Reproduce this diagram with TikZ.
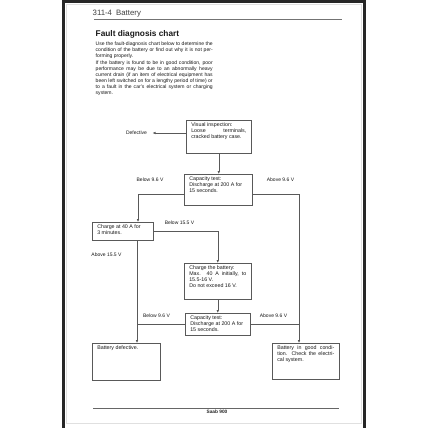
\documentclass[tikz,border=0pt]{standalone}
\usepackage{fontspec}
\setmainfont{Liberation Sans}
\usetikzlibrary{arrows.meta}
\newcommand{\bt}[3]{\parbox[c][#2][t]{#1}{\raggedright #3}}
\newcommand{\js}[1]{\makebox[\linewidth][s]{#1}}
\begin{document}
\begin{tikzpicture}[x=1pt,y=-1pt,
  box/.style={draw=black!65, line width=0.6pt, anchor=north west, inner xsep=5pt, inner ysep=2.3pt,
              font=\fontsize{5.3}{5.8}\selectfont, text=black!90},
  lbl/.style={font=\fontsize{5}{5.5}\selectfont, text=black!90, inner sep=0},
  arr/.style={draw=black!65, line width=0.6pt, -{Latex[length=3pt,width=2.6pt]}},
  ln/.style={draw=black!65, line width=0.6pt},
  hdr/.style={anchor=base west, font=\fontsize{7.8}{9}\selectfont, text=black!75, inner sep=0}]
\useasboundingbox (0,0) rectangle (428,428);
\fill[white] (0,0) rectangle (428,428);
% frame of the scanned page
\draw[black!12, line width=0.8pt] (66.5,4) rectangle (361,423);
\draw[black!85, line width=3pt] (63.5,430) -- (63.5,1.5) -- (364.5,1.5) -- (364.5,430);
% header
\node[hdr] (hn) at (92.5,16) {311-4};
\node[hdr] (ht) at (116,16) {Battery};
\draw[black!55, line width=0.9pt] (94,19.5) -- (342,19.5);
% title and text
\node[anchor=base west, font=\bfseries\fontsize{8.3}{10}\selectfont, text=black!90, inner sep=0] (title) at (95.5,37) {Fault diagnosis chart};
\node[anchor=north west, inner sep=0, font=\fontsize{5.05}{6.05}\selectfont, text=black!90] (para) at (95.5,42)
 {\parbox{117pt}{\js{Use the fault-diagnosis chart below to determine the}\\
  \js{condition of the battery or find out why it is not per-}\\
  forming properly.\\
  \js{If the battery is found to be in good condition, poor}\\
  \js{performance may be due to an abnormally heavy}\\
  \js{current drain (if an item of electrical equipment has}\\
  \js{been left switched on for a lengthy period of time) or}\\
  \js{to a fault in the car's electrical system or charging}\\
  system.}};
% boxes
\node[box] (V) at (186,120) {\bt{55pt}{28.4pt}{Visual inspection:\\ \js{Loose terminals,}\\ cracked battery case.}};
\node[box] (C1) at (184,174) {\bt{58pt}{26.4pt}{Capacity test:\\ Discharge at 200 A for\\ 15 seconds.}};
\node[box] (Ch40) at (92,222) {\bt{51pt}{13.4pt}{Charge at 40 A for\\ 3 minutes.}};
\node[box] (Charge) at (184,263) {\bt{57pt}{31.4pt}{Charge the battery:\\ \js{Max. 40 A initially, to}\\ 15.5-16 V.\\[0.8pt] Do not exceed 16 V.}};
\node[box] (C2) at (185,313) {\bt{55pt}{17.4pt}{Capacity test:\\ Discharge at 200 A for\\ 15 seconds.}};
\node[box] (Def) at (92,343) {\bt{58pt}{32.4pt}{Battery defective.}};
\node[box] (Good) at (272,343) {\bt{57pt}{31.4pt}{\js{Battery in good condi-}\\ \js{tion. Check the electri-}\\ cal system.}};
% labels
\node[lbl] (def) at (136.5,133) {Defective};
\node[lbl] (b1) at (150,180) {Below 9.6 V};
\node[lbl] (a1) at (280.5,180) {Above 9.6 V};
\node[lbl] (b2) at (179.5,223) {Below 15.5 V};
\node[lbl] (a2) at (106.5,255) {Above 15.5 V};
\node[lbl] (b3) at (156.5,316) {Below 9.6 V};
\node[lbl] (a3) at (273.5,316) {Above 9.6 V};
% connectors
\coordinate (dE) at (152.5,133);
\coordinate (c1l) at (138,194);
\coordinate (c1r) at (299,194);
\coordinate (cx) at (137,0);
\draw[arr] (V.west |- dE) -- (dE);
\draw[arr] (V.south) -- (V.south |- C1.north);
\draw[arr] (C1.west |- c1l) -- (c1l) -- (c1l |- Ch40.north);
\draw[arr] (C1.east |- c1r) -- (c1r) -- (c1r |- Good.north);
\draw[arr] (Ch40.east) -| (Charge.north);
\draw[arr] (Ch40.south -| cx) -- (cx |- Def.north);
\draw[arr] (Charge.south) -- (Charge.south |- C2.north);
\draw[ln] (C2.west) -- (C2.west -| cx);
\draw[ln] (C2.east) -- (C2.east -| c1r);
% footer
\draw[black!60, line width=0.9pt] (93,408) -- (339,408);
\node[font=\bfseries\fontsize{4.8}{5}\selectfont, text=black!85, inner sep=0] (saab) at (217,412) {Saab 900};
\end{tikzpicture}
\end{document}
